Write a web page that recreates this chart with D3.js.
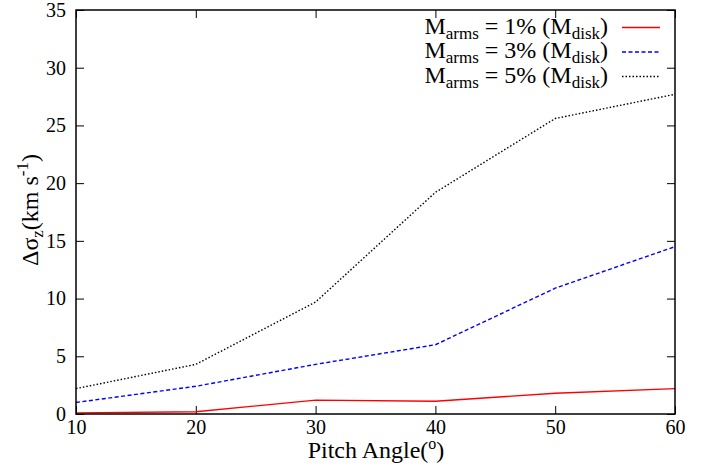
<!DOCTYPE html>
<html><head><meta charset="utf-8">
<script src="https://cdn.jsdelivr.net/npm/d3@7"></script>
<style>body{margin:0;background:#fff}svg{display:block}</style>
</head><body><svg id="c" width="716" height="467"></svg>
<script>
const pitch = [10, 20, 30, 40, 50, 60];
const arms1 = [0.1, 0.2, 1.2, 1.1, 1.8, 2.2];
const arms3 = [1.0, 2.4, 4.3, 6.0, 10.9, 14.5];
const arms5 = [2.2, 4.3, 9.7, 19.2, 25.6, 27.7];
const xTicks = [10, 20, 30, 40, 50, 60];
const yTicks = [0, 5, 10, 15, 20, 25, 30, 35];
const seriesNames = ["1%", "3%", "5%"];

const FONT = "'Liberation Serif', 'DejaVu Serif', serif";
const svg = d3.select("#c");
const L = 76, R = 675, T = 10, B = 414;
const x = d3.scaleLinear().domain([10, 60]).range([L, R]);
const y = d3.scaleLinear().domain([0, 35]).range([B, T]);

const series = [
  {name: seriesNames[0], vals: arms1, color: "#ff0000", dash: null},
  {name: seriesNames[1], vals: arms3, color: "#0000ff", dash: "4,2.5"},
  {name: seriesNames[2], vals: arms5, color: "#000000", dash: "1.5,2"}
];

const tk = 8;
svg.append("g").attr("transform", `translate(0,${B})`)
  .call(d3.axisBottom(x).tickValues(xTicks).tickSizeInner(-tk).tickSizeOuter(0).tickPadding(6))
  .call(g => g.select(".domain").remove())
  .call(g => g.selectAll("text").attr("font-size", 20).attr("dy", "0.7em"));
svg.append("g").attr("transform", `translate(0,${T})`)
  .call(d3.axisTop(x).tickValues(xTicks).tickSizeInner(-tk).tickSizeOuter(0).tickFormat(""))
  .call(g => g.select(".domain").remove());
svg.append("g").attr("transform", `translate(${L},0)`)
  .call(d3.axisLeft(y).tickValues(yTicks).tickSizeInner(-tk).tickSizeOuter(0).tickPadding(10))
  .call(g => g.select(".domain").remove())
  .call(g => g.selectAll("text").attr("font-size", 20));
svg.append("g").attr("transform", `translate(${R},0)`)
  .call(d3.axisRight(y).tickValues(yTicks).tickSizeInner(-tk).tickSizeOuter(0).tickFormat(""))
  .call(g => g.select(".domain").remove());
svg.selectAll(".tick line").attr("stroke", "#000").attr("stroke-width", 1);

const line = d3.line().x((d, i) => x(pitch[i])).y(d => y(d));
series.forEach(s => {
  svg.append("path").datum(s.vals).attr("d", line)
    .attr("fill", "none").attr("stroke", s.color).attr("stroke-width", 1.4)
    .attr("stroke-dasharray", s.dash);
});

svg.append("rect").attr("x", L).attr("y", T).attr("width", R - L).attr("height", B - T)
  .attr("fill", "none").attr("stroke", "#000").attr("stroke-width", 1.5);

// legend
series.forEach((s, i) => {
  const yy = 27.5 + i * 24.5;
  const t = svg.append("text").attr("x", 608).attr("y", yy + 6).attr("text-anchor", "end").attr("font-size", 24);
  t.append("tspan").text("M");
  t.append("tspan").attr("font-size", 17).attr("dy", 5).text("arms");
  t.append("tspan").attr("dy", -5).text(" = " + s.name + " (M");
  t.append("tspan").attr("font-size", 17).attr("dy", 5).text("disk");
  t.append("tspan").attr("dy", -5).text(")");
  svg.append("line").attr("x1", 622).attr("x2", 660).attr("y1", yy).attr("y2", yy)
    .attr("stroke", s.color).attr("stroke-width", 1.4).attr("stroke-dasharray", s.dash);
});

// axis titles
const xt = svg.append("text").attr("x", 376).attr("y", 458).attr("text-anchor", "middle").attr("font-size", 24);
xt.append("tspan").text("Pitch Angle(");
xt.append("tspan").attr("font-size", 16).attr("dy", -9).text("o");
xt.append("tspan").attr("dy", 9).text(")");

const yt = svg.append("text").attr("transform", "translate(38,210) rotate(-90)").attr("text-anchor", "middle").attr("font-size", 24);
yt.append("tspan").text("Δσ");
yt.append("tspan").attr("font-size", 17).attr("dy", 5).text("z");
yt.append("tspan").attr("dy", -5).text("(km s");
yt.append("tspan").attr("font-size", 17).attr("dy", -10).text("-1");
yt.append("tspan").attr("dy", 10).text(")");

svg.selectAll("text").attr("font-family", FONT).attr("fill", "#000");
svg.selectAll("g").attr("font-family", FONT);
</script></body></html>
